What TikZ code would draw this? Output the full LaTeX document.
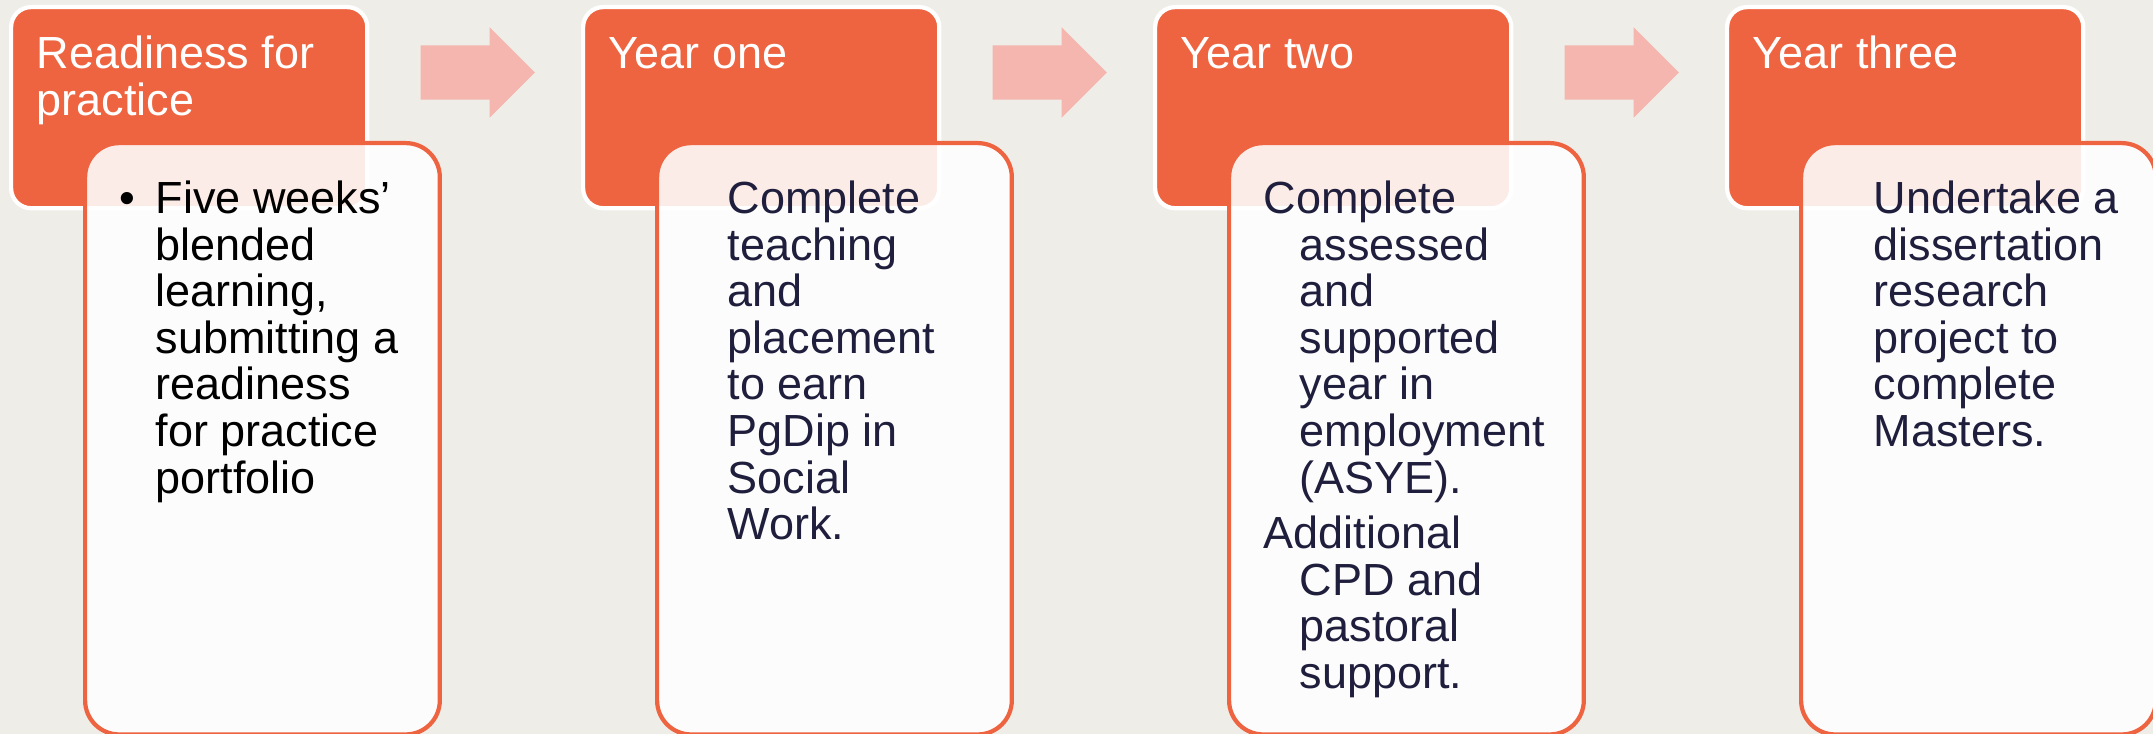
\documentclass[tikz,border=0pt]{standalone}
\usepackage{fontspec}
\setmainfont{Liberation Sans}
\usepackage{xcolor}
\usetikzlibrary{shapes.arrows}

\definecolor{bggray}{HTML}{EFEDE8}
\definecolor{headorange}{HTML}{EE6441}
\definecolor{arrowpink}{HTML}{F5B6AF}
\definecolor{bodynavy}{HTML}{1F1F3D}

% fixed height for the first line of every text block
\newcommand{\hdstrut}{\rule{0pt}{10pt}}

\tikzset{
  headbox/.style={draw=white, line width=1.2pt, fill=headorange, rounded corners=0.2cm,
    minimum width=3.56cm, minimum height=2.01cm, inner sep=0pt, anchor=north west},
  cardbox/.style={draw=headorange, line width=1.2pt, fill=white, fill opacity=0.88,
    draw opacity=1, rounded corners=0.34cm, minimum width=3.545cm, minimum height=5.91cm,
    inner sep=0pt, anchor=north west},
  steparrow/.style={single arrow, fill=arrowpink, minimum height=1.14cm, minimum width=0.89cm,
    single arrow head extend=0.18cm, inner sep=0pt, anchor=west},
  headtext/.style={text=white, align=left, anchor=north west, inner sep=0pt,
    font=\fontsize{12.8pt}{13.3pt}\selectfont},
  cardtext/.style={text=bodynavy, align=left, anchor=north west, inner sep=0pt,
    font=\fontsize{12.8pt}{13.25pt}\selectfont}
}

\begin{document}
\begin{tikzpicture}[x=0.01cm, y=-0.01cm]
\fill[bggray] (0,0) rectangle (2153,734);
\useasboundingbox (0,0) rectangle (2153,734);

% stage headers
\node[headbox] (hdReady) at (9,5) {};
\node[headbox] (hdOne) at (581,5) {};
\node[headbox] (hdTwo) at (1153,5) {};
\node[headbox] (hdThree) at (1725,5) {};

% arrows between the stages
\node[steparrow] (arReady) at (420,72.5) {\rule{0pt}{0.53cm}};
\node[steparrow] (arOne) at (992,72.5) {\rule{0pt}{0.53cm}};
\node[steparrow] (arTwo) at (1564,72.5) {\rule{0pt}{0.53cm}};

% detail cards
\node[cardbox] (cdReady) at (83,141) {};
\node[cardbox] (cdOne) at (655,141) {};
\node[cardbox] (cdTwo) at (1227,141) {};
\node[cardbox] (cdThree) at (1799,141) {};

% header texts (first baseline at y=68)
\node[headtext] (txReady) at (36,32.7) {\hdstrut Readiness for\\practice};
\node[headtext] (txOne) at (608,32.7) {\hdstrut Year one};
\node[headtext] (txTwo) at (1180,32.7) {\hdstrut Year two};
\node[headtext] (txThree) at (1752,32.7) {\hdstrut Year three};

% card texts (first baseline at y=213)
\node[cardtext, text=black] (bdReady) at (155,177.7)
  {\llap{\textbullet\hspace{0.2cm}}\hdstrut Five weeks’\\blended\\learning,\\submitting a\\readiness\\for practice\\portfolio};
\node[cardtext] (bdOne) at (727,177.7)
  {\hdstrut Complete\\teaching\\and\\placement\\to earn\\PgDip in\\Social\\Work.};
\node[cardtext] (bdTwo) at (1263,177.7)
  {\hdstrut Complete\\\hspace*{0.36cm}assessed\\\hspace*{0.36cm}and\\\hspace*{0.36cm}supported\\\hspace*{0.36cm}year in\\\hspace*{0.36cm}employment\\\hspace*{0.36cm}(ASYE).\\[0.09cm]Additional\\\hspace*{0.36cm}CPD and\\\hspace*{0.36cm}pastoral\\\hspace*{0.36cm}support.};
\node[cardtext] (bdThree) at (1873,177.7)
  {\hdstrut Undertake a\\dissertation\\research\\project to\\complete\\Masters.};
\end{tikzpicture}
\end{document}
